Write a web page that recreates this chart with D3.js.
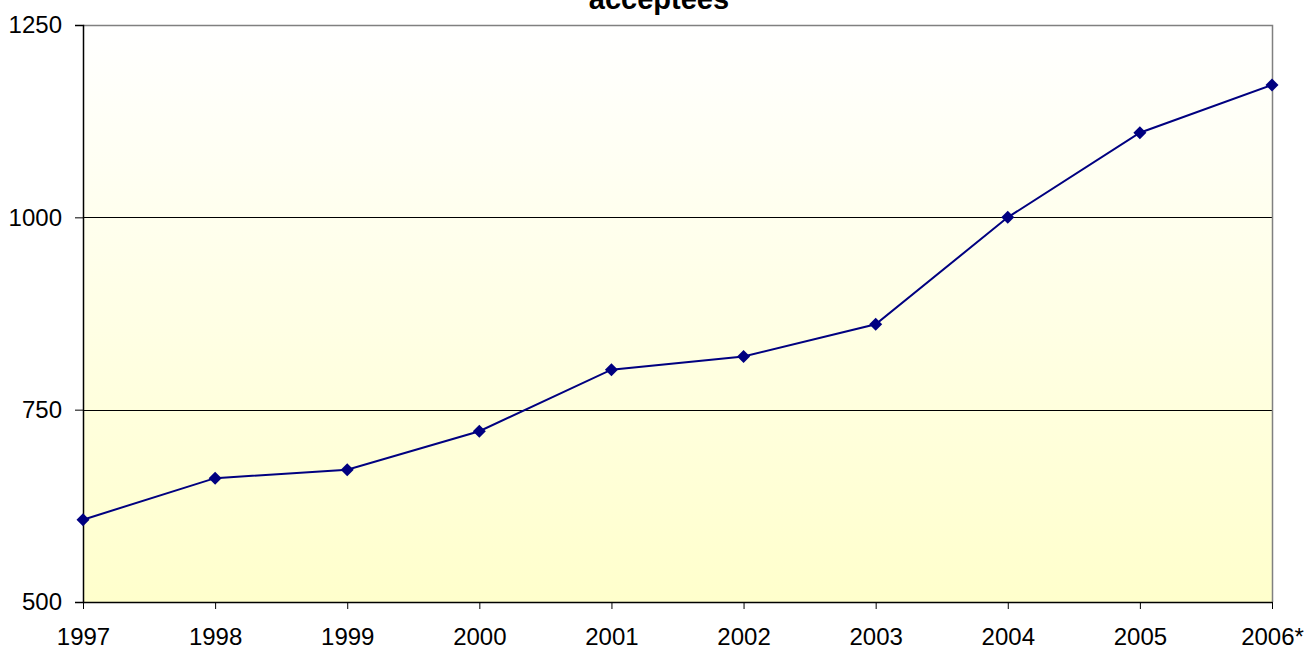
<!DOCTYPE html>
<html>
<head>
<meta charset="utf-8">
<script src="https://cdn.jsdelivr.net/npm/d3@7"></script>
<style>
  html, body { margin: 0; padding: 0; background: #ffffff; }
  svg { display: block; font-family: Arial, "Liberation Sans", sans-serif; }
</style>
</head>
<body>
<svg id="chart" width="1308" height="649"></svg>
<script>
// Yearly counts
const years = ["1997", "1998", "1999", "2000", "2001", "2002", "2003", "2004", "2005", "2006*"];
const values = [607, 661, 672, 722, 802, 819, 861, 1000, 1110, 1172];
const yTicks = [500, 750, 1000, 1250];
const title = "acceptees";

const svg = d3.select("#chart");
const plot = { left: 83, right: 1272, top: 25, bottom: 602 };

const x = d3.scalePoint().domain(years).range([plot.left, plot.right]);
const y = d3.scaleLinear().domain([500, 1250]).range([plot.bottom, plot.top]);

// Background gradient: white at the top fading to pale yellow
const defs = svg.append("defs");
const grad = defs.append("linearGradient")
  .attr("id", "bg").attr("x1", 0).attr("y1", 0).attr("x2", 0).attr("y2", 1);
grad.append("stop").attr("offset", "0%").attr("stop-color", "#ffffff");
grad.append("stop").attr("offset", "100%").attr("stop-color", "#ffffcc");

svg.append("rect")
  .attr("x", plot.left).attr("y", plot.top)
  .attr("width", plot.right - plot.left).attr("height", plot.bottom - plot.top)
  .attr("fill", "url(#bg)");

// Horizontal gridlines
svg.append("g")
  .selectAll("line")
  .data(yTicks.filter(d => d > 500 && d < 1250))
  .join("line")
  .attr("x1", plot.left).attr("x2", plot.right)
  .attr("y1", d => Math.round(y(d)) + 0.5).attr("y2", d => Math.round(y(d)) + 0.5)
  .attr("stroke", "#000000").attr("stroke-width", 1);

// Plot area border (top and right)
svg.append("path")
  .attr("d", `M${plot.left},${plot.top + 0.5} H${plot.right + 0.5} V${plot.bottom}`)
  .attr("fill", "none").attr("stroke", "#808080").attr("stroke-width", 1.5);

// Y axis
const yAxis = svg.append("g")
  .attr("transform", `translate(${plot.left},0)`)
  .call(d3.axisLeft(y).tickValues(yTicks).tickSize(8).tickPadding(13).tickFormat(d3.format("d")));
yAxis.select(".domain").attr("stroke", "#000000").attr("stroke-width", 1.5);
yAxis.selectAll(".tick line").attr("stroke", "#000000").attr("stroke-width", 1);
yAxis.selectAll(".tick text")
  .attr("font-size", "24px").attr("fill", "#000000")
  .attr("font-family", "Arial, 'Liberation Sans', sans-serif");

// X axis
const xAxis = svg.append("g")
  .attr("transform", `translate(0,${plot.bottom})`)
  .call(d3.axisBottom(x).tickSize(7).tickPadding(19).tickSizeOuter(0));
xAxis.select(".domain").attr("stroke", "#000000").attr("stroke-width", 1.5);
xAxis.selectAll(".tick line").attr("stroke", "#000000").attr("stroke-width", 1);
xAxis.selectAll(".tick text")
  .attr("font-size", "24px").attr("fill", "#000000")
  .attr("font-family", "Arial, 'Liberation Sans', sans-serif");

// Data line
const line = d3.line()
  .x((d, i) => x(years[i]))
  .y(d => y(d));

svg.append("path")
  .datum(values)
  .attr("d", line)
  .attr("fill", "none")
  .attr("stroke", "#000080")
  .attr("stroke-width", 2);

// Diamond markers
const r = 6.5;
svg.append("g")
  .selectAll("path")
  .data(values)
  .join("path")
  .attr("d", (d, i) => {
    const cx = x(years[i]), cy = y(d);
    return `M${cx},${cy - r}L${cx + r},${cy}L${cx},${cy + r}L${cx - r},${cy}Z`;
  })
  .attr("fill", "#000080");

// Title (partly clipped by the top edge)
svg.append("text")
  .attr("x", 659).attr("y", 9)
  .attr("text-anchor", "middle")
  .attr("font-size", "29px").attr("font-weight", "bold")
  .attr("fill", "#000000")
  .text(title);
</script>
</body>
</html>
